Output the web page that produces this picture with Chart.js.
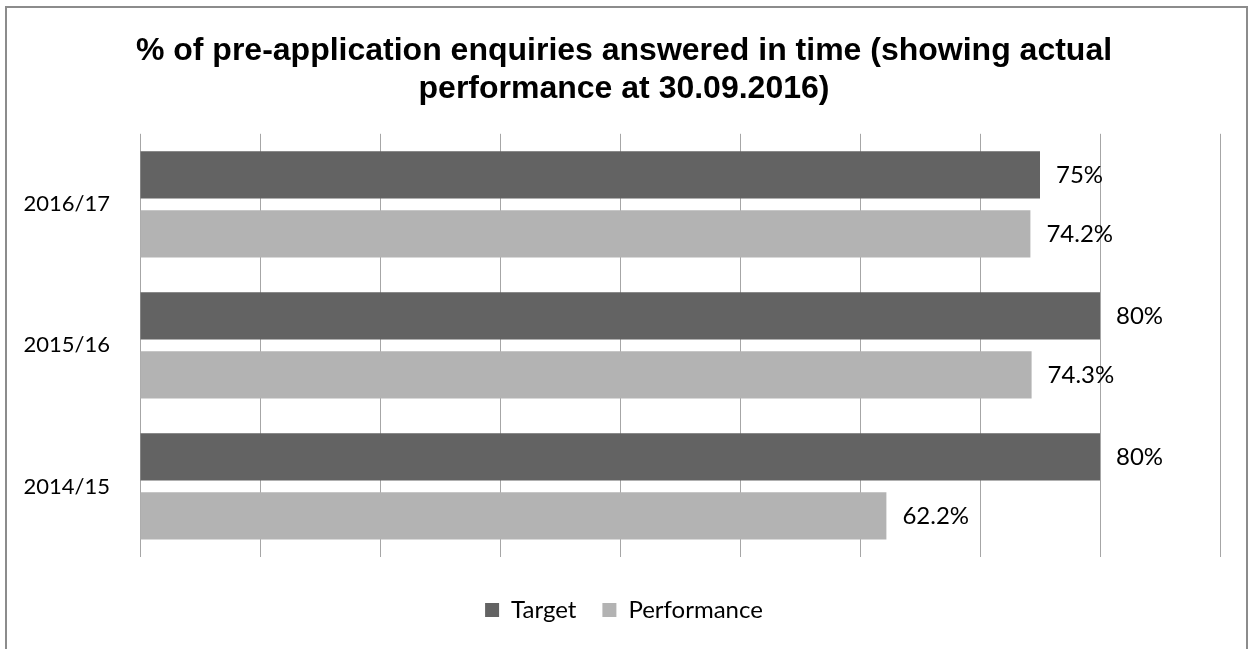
<!DOCTYPE html>
<html>
<head>
<meta charset="utf-8">
<script src="https://cdn.jsdelivr.net/npm/chart.js@4.4.1/dist/chart.umd.min.js"></script>
<style>
  html, body { margin: 0; padding: 0; background: #fff; }
  #wrap { position: relative; width: 1248px; height: 649px; overflow: hidden; }
  #frame {
    position: absolute; left: 5px; top: 6px; width: 1243px; height: 700px;
    box-sizing: border-box; border: 2px solid #8c8c8c; border-bottom: none;
    pointer-events: none;
  }
  canvas { position: absolute; left: 0; top: 0; }
</style>
</head>
<body>
<div id="wrap">
  <canvas id="chart" width="1248" height="649"></canvas>
  <div id="frame"></div>
</div>
<script>
// values, top row first
const years = ['2016/17', '2015/16', '2014/15'];
const target = [75, 80, 80];
const performance = [74.2, 74.3, 62.2];
const titleLines = [
  '% of pre-application enquiries answered in time (showing actual',
  'performance at 30.09.2016)'
];

const labelFont = 'Lato, "Open Sans", sans-serif';

// write "75%" etc. just past the end of each bar
const barValues = {
  id: 'barValues',
  afterDatasetsDraw(chart) {
    const ctx = chart.ctx;
    ctx.save();
    ctx.font = '24px ' + labelFont;
    ctx.fillStyle = '#000';
    ctx.textAlign = 'left';
    ctx.textBaseline = 'middle';
    chart.data.datasets.forEach((ds, i) => {
      chart.getDatasetMeta(i).data.forEach((bar, j) => {
        ctx.fillText(ds.data[j] + '%', bar.x + 16, bar.y);
      });
    });
    ctx.restore();
  }
};

new Chart(document.getElementById('chart'), {
  type: 'bar',
  data: {
    labels: years,
    datasets: [
      { label: 'Target', data: target, backgroundColor: '#636363' },
      { label: 'Performance', data: performance, backgroundColor: '#b3b3b3' }
    ]
  },
  options: {
    indexAxis: 'y',
    responsive: false,
    animation: false,
    devicePixelRatio: 1,
    categoryPercentage: 0.837,
    barPercentage: 0.8,
    layout: { padding: { left: 0, right: 0, top: 0, bottom: 17 } },
    scales: {
      x: {
        min: 0,
        max: 90,
        ticks: { display: false, stepSize: 10 },
        grid: { color: '#a6a6a6', drawTicks: false },
        border: { display: false },
        afterFit(scale) { scale.height = 15; }
      },
      y: {
        grid: { display: false, drawTicks: false },
        border: { display: false },
        ticks: { color: '#000', padding: 30, font: { family: labelFont, size: 22 } },
        afterFit(scale) { scale.width = 140; }
      },
      // empty strip on the right so the plot ends at the 90% line
      yRight: {
        type: 'category',
        position: 'right',
        grid: { display: false, drawTicks: false },
        border: { display: false },
        ticks: { display: false },
        afterFit(scale) { scale.width = 28; }
      }
    },
    plugins: {
      title: {
        display: true,
        text: titleLines,
        color: '#000',
        font: { family: '"Liberation Sans", Arial, sans-serif', size: 32, weight: 'bold', lineHeight: 1.2 },
        padding: { top: 32, bottom: 25 }
      },
      legend: {
        position: 'bottom',
        labels: {
          color: '#000',
          boxWidth: 14,
          boxHeight: 14,
          padding: 26,
          font: { family: labelFont, size: 24 }
        }
      },
      tooltip: { enabled: false }
    }
  },
  plugins: [barValues]
});
</script>
</body>
</html>
